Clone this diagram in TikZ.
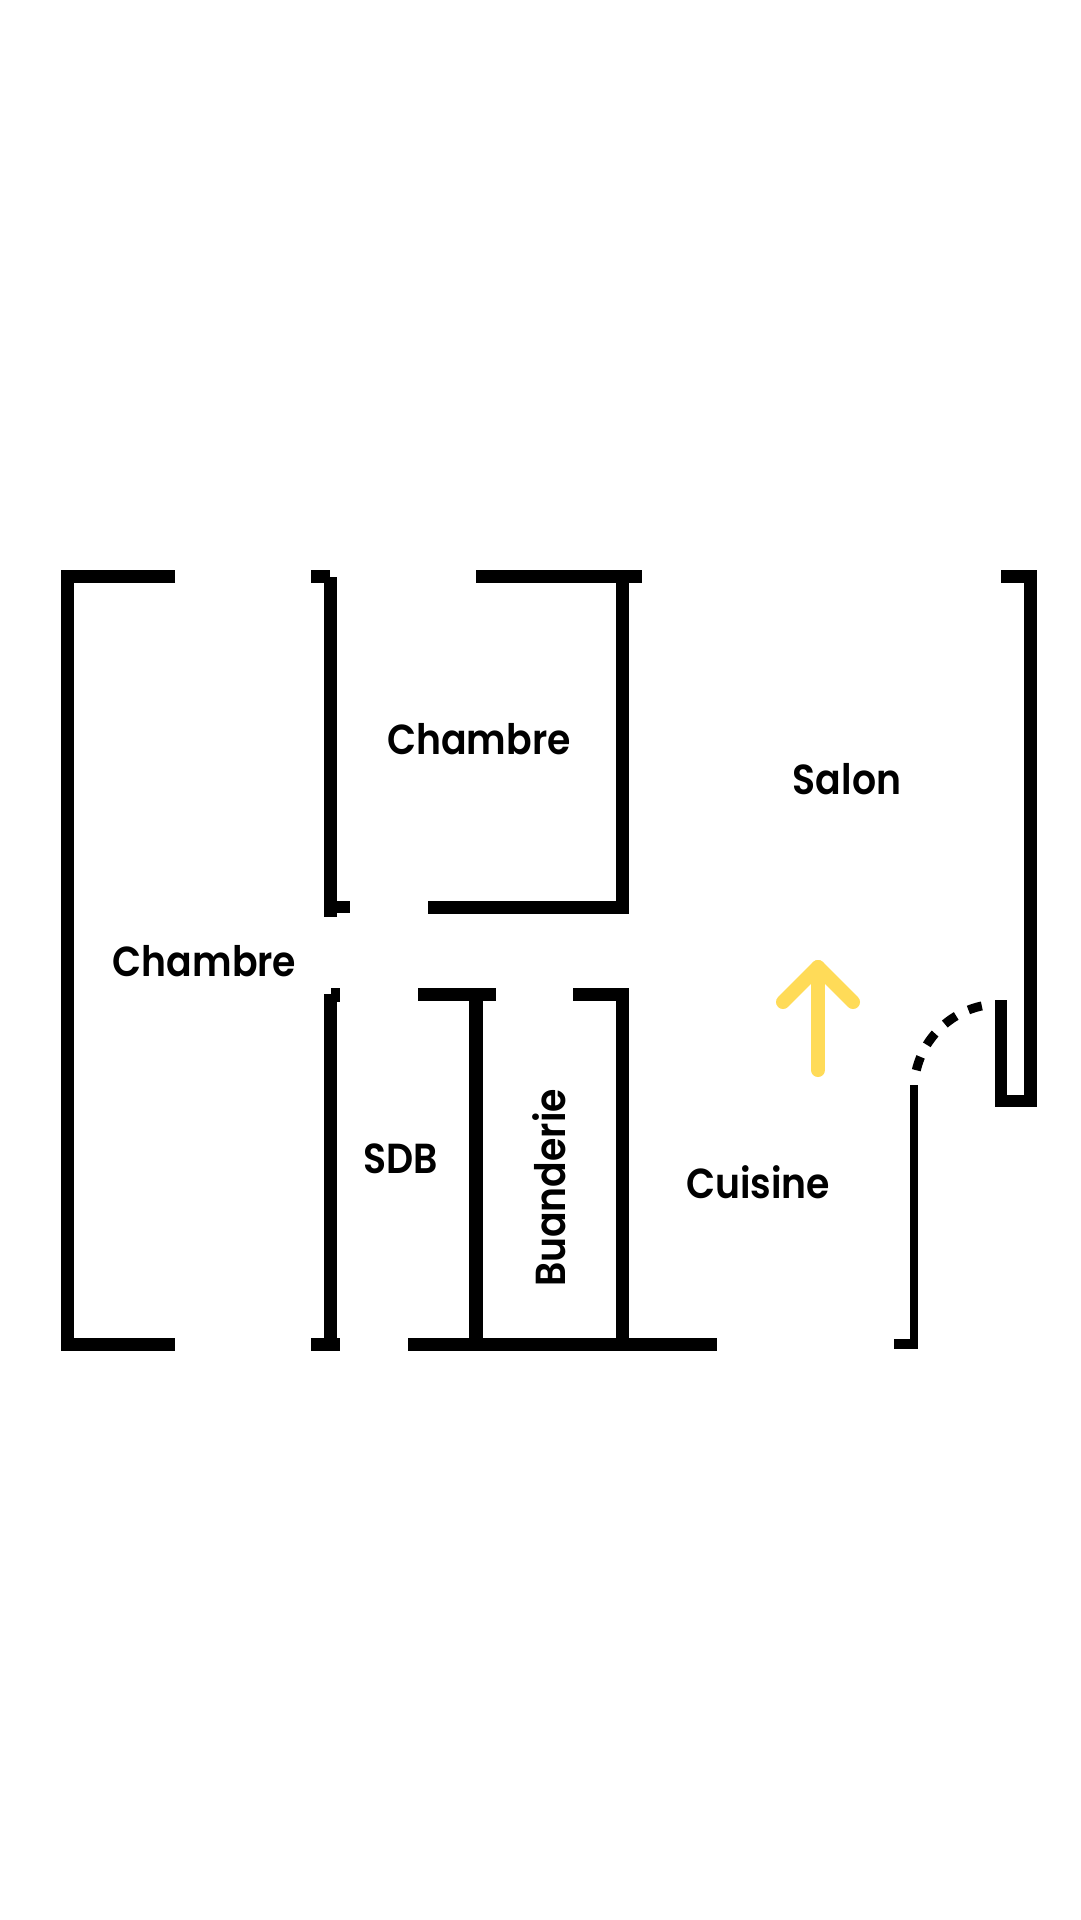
\documentclass[tikz,border=0pt]{standalone}
\usepackage{fontspec}
\newfontfamily\labfont{Poppins SemiBold}[FakeStretch=0.9]
\begin{document}
\begin{tikzpicture}[x=1pt,y=1pt,
  wall/.style={line width=13pt,draw=black,line join=miter,line cap=butt},
  thinwall/.style={line width=8pt,draw=black,line cap=butt},
  doorarc/.style={line width=9pt,draw=black,dash pattern=on 14pt off 13.6pt,line cap=butt},
  dirarrow/.style={line width=14pt,draw=arrowyellow,line cap=round,line join=round},
  roomlabel/.style={font=\labfont\fontsize{42}{50}\selectfont,anchor=base,inner sep=0pt}]
\definecolor{arrowyellow}{RGB}{255,219,88}
\fill[white] (0,0) rectangle (1080,-1920);
\useasboundingbox (0,0) rectangle (1080,-1920);
% left bedroom
\draw[wall] (175,-576.5) -- (67.5,-576.5) -- (67.5,-1344.5) -- (175,-1344.5);
% upper bedroom
\draw[wall] (311,-576.5) -- (330,-576.5);
\draw[wall] (330.5,-577) -- (330.5,-917);
\draw[wall,line width=12pt] (337,-907) -- (350,-907);
\draw[wall] (476,-576.5) -- (642,-576.5);
\draw[wall] (622.5,-583) -- (622.5,-907) -- (428,-907);
% SDB / Buanderie
\draw[wall,line width=14pt] (331,-994.5) -- (340,-994.5);
\draw[wall] (330.5,-994) -- (330.5,-1351);
\draw[wall] (311,-1344.5) -- (340,-1344.5);
\draw[wall] (408,-1344.5) -- (717,-1344.5);
\draw[wall] (418,-994.5) -- (496,-994.5);
\draw[wall,line width=14pt] (476,-1001) -- (476,-1338);
\draw[wall] (573,-994.5) -- (622,-994.5) -- (622,-1338);
% right side
\draw[wall,line width=12.5pt] (1001,-576.5) -- (1030.5,-576.5) -- (1030.5,-1101) -- (1001,-1101) -- (1001,-1000);
\draw[thinwall] (914,-1085) -- (914,-1349);
\draw[wall,line width=10pt] (894,-1344) -- (918,-1344);
\draw[doorarc] (916.3,-1070.2) arc[start angle=166.7,end angle=99,radius=86];
% arrow
\draw[dirarrow] (783,-1002) -- (818,-967) -- (853,-1002);
\draw[dirarrow] (818,-967) -- (818,-1070);
% labels
\node[roomlabel] (lblch1) at (204.5,-976) {Chambre};
\node[roomlabel] (lblch2) at (479,-754) {Chambre};
\node[roomlabel] (lblsalon) at (847,-794) {Salon};
\node[roomlabel] (lblsdb) at (401,-1173) {SDB};
\node[roomlabel] (lblcuis) at (758,-1198) {Cuisine};
\node[roomlabel,rotate=90] (lblbuan) at (565,-1188) {Buanderie};
\end{tikzpicture}
\end{document}
